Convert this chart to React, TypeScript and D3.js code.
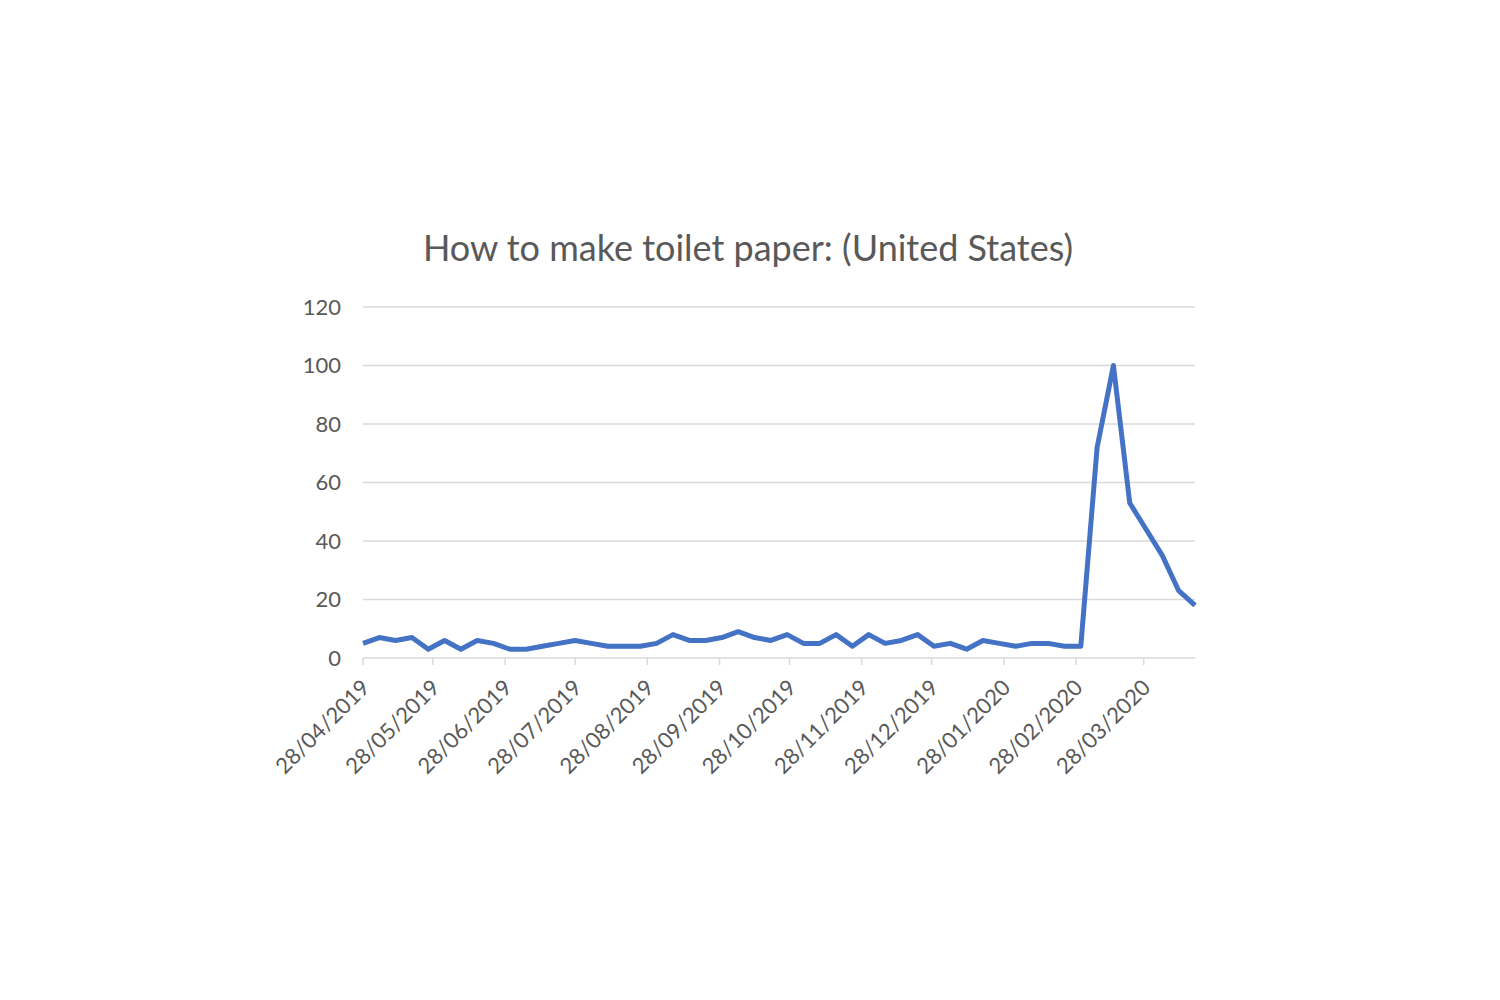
import React from 'react';
import * as d3 from 'd3';

// weekly Google-trends style index, first week 28/04/2019
const START = new Date(2019, 3, 28);
const interest = [
  5, 7, 6, 7, 3, 6, 3, 6, 5, 3, 3, 4, 5, 6, 5, 4, 4, 4, 5, 8, 6, 6, 7, 9, 7, 6,
  8, 5, 5, 8, 4, 8, 5, 6, 8, 4, 5, 3, 6, 5, 4, 5, 5, 4, 4, 72, 100, 53, 44, 35, 23, 18,
];
const yTicks = [0, 20, 40, 60, 80, 100, 120];
const TITLE = 'How to make toilet paper: (United States)';

const W = 1500;
const H = 1000;
const LEFT = 363;
const RIGHT = 1195;
const TOP = 307;
const BOTTOM = 658;
const FONT = 'Lato, "Open Sans", sans-serif';
const GREY = '#595959';

const fmt = d3.timeFormat('%d/%m/%Y');

function App() {
  const points = interest.map((v, i) => ({ date: d3.timeDay.offset(START, i * 7), v }));
  const last = points[points.length - 1].date;

  const x = d3.scaleTime().domain([START, last]).range([LEFT, RIGHT]);
  const y = d3.scaleLinear().domain([0, 120]).range([BOTTOM, TOP]);

  // month ticks on the 28th
  const monthTicks = d3.timeMonth
    .range(d3.timeMonth.floor(START), last)
    .map((d) => new Date(d.getFullYear(), d.getMonth(), 28))
    .filter((d) => d <= last);

  const line = d3
    .line<{ date: Date; v: number }>()
    .x((d) => x(d.date))
    .y((d) => y(d.v));

  return (
    <svg width={W} height={H} style={{ display: 'block', marginTop: -8, marginLeft: -8 }}>
      <rect width={W} height={H} fill="#fff" />
      <text x={748} y={261} textAnchor="middle" fontFamily={FONT} fontSize={36} fill={GREY}>
        {TITLE}
      </text>

      <g>
        {yTicks.map((t) => (
          <g key={t}>
            {t > 0 && (
              <line x1={LEFT} x2={RIGHT} y1={y(t)} y2={y(t)} stroke="#d9d9d9" strokeWidth={1.5} />
            )}
            <text
              x={341}
              y={y(t)}
              dy="0.35em"
              textAnchor="end"
              fontFamily={FONT}
              fontSize={22}
              fill={GREY}
            >
              {t}
            </text>
          </g>
        ))}
      </g>

      <g>
        <line x1={LEFT} x2={RIGHT} y1={BOTTOM} y2={BOTTOM} stroke="#d9d9d9" strokeWidth={1.5} />
        {monthTicks.map((d) => (
          <g key={d.getTime()} transform={`translate(${x(d)},${BOTTOM})`}>
            <line y1={0} y2={7} stroke="#d9d9d9" strokeWidth={1.5} />
            <text
              transform="translate(8,31) rotate(-45)"
              textAnchor="end"
              fontFamily={FONT}
              fontSize={22}
              fill={GREY}
            >
              {fmt(d)}
            </text>
          </g>
        ))}
      </g>

      <path
        d={line(points) ?? ''}
        fill="none"
        stroke="#4472C4"
        strokeWidth={5}
        strokeLinejoin="round"
      />
    </svg>
  );
}

export default App;
